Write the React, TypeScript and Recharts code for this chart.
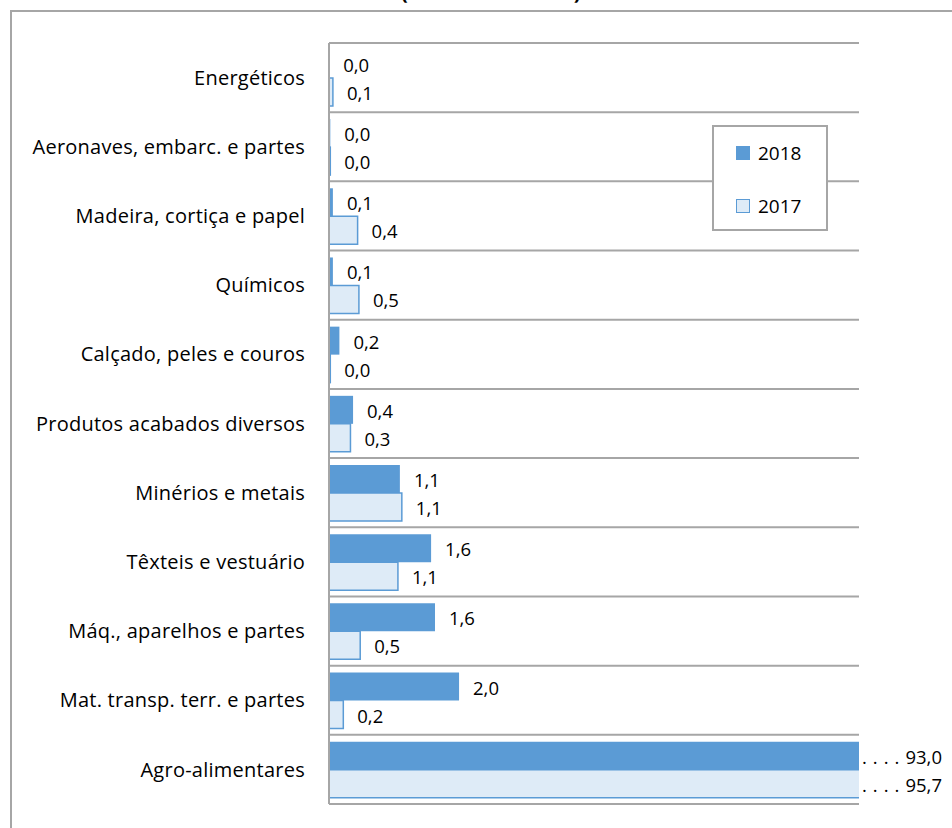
import { BarChart, Bar, XAxis, YAxis, CartesianGrid, LabelList, Legend } from 'recharts';

// categories top -> bottom
const categories = [
  'Energéticos',
  'Aeronaves, embarc. e partes',
  'Madeira, cortiça e papel',
  'Químicos',
  'Calçado, peles e couros',
  'Produtos acabados diversos',
  'Minérios e metais',
  'Têxteis e vestuário',
  'Máq., aparelhos e partes',
  'Mat. transp. terr. e partes',
  'Agro-alimentares',
];
const values2018 = [0.004, 0.02, 0.06, 0.06, 0.16, 0.37, 1.09, 1.57, 1.63, 2.0, 93.0];
const values2017 = [0.06, 0.02, 0.44, 0.46, 0.02, 0.33, 1.12, 1.06, 0.48, 0.22, 95.7];
const seriesNames = ['2018', '2017'];
const xMax = 8.15; // axis is cut, big bars run past the edge

const data = categories.map((name, i) => ({
  name,
  y2018: values2018[i],
  y2017: values2017[i],
}));

const W = 952;
const H = 828;
const M = { top: 43, right: 93, bottom: 24, left: 0 };
const PLOT_RIGHT = W - M.right;
const FONT = '"Open Sans", Calibri, sans-serif';
const BLUE = '#5b9bd5';
const LIGHT = '#deebf7';
const GRAY = '#a6a6a6';

const fmt = (v: number) => v.toFixed(1).replace('.', ',');

function ValueLabel(props: any) {
  const { x, y, width, height, value } = props;
  const end = Number(x) + Number(width);
  const over = end > PLOT_RIGHT;
  const tx = over ? PLOT_RIGHT + 3 : end + 14;
  return (
    <text
      x={tx}
      y={Number(y) + Number(height) / 2}
      dominantBaseline="central"
      fontSize={18.5}
      fontFamily={FONT}
      fill="#000"
    >
      {over && <tspan letterSpacing={0.6}>{'. . . . '}</tspan>}
      <tspan>{fmt(Number(value))}</tspan>
    </text>
  );
}

function LegendBox() {
  const swatches = [
    { fill: BLUE, stroke: BLUE },
    { fill: LIGHT, stroke: BLUE },
  ];
  return (
    <div
      style={{
        width: 112,
        height: 102,
        border: `2px solid ${GRAY}`,
        background: '#fff',
        fontFamily: FONT,
        fontSize: 19,
        color: '#000',
        position: 'relative',
      }}
    >
      {seriesNames.map((s, i) => (
        <div
          key={s}
          style={{
            position: 'absolute',
            left: 22,
            top: 14 + i * 53,
            display: 'flex',
            alignItems: 'center',
            height: 24,
          }}
        >
          <span
            style={{
              width: 12,
              height: 12,
              background: swatches[i].fill,
              border: `1.5px solid ${swatches[i].stroke}`,
              marginRight: 8,
              display: 'inline-block',
            }}
          />
          <span>{s}</span>
        </div>
      ))}
    </div>
  );
}

export default function App() {
  return (
    <div style={{ position: 'relative', width: W, height: H, overflow: 'hidden', background: '#fff' }}>
      <style>{'body{margin:0;overflow:hidden}'}</style>
      <div
        style={{
          position: 'absolute',
          left: 10,
          top: 10,
          width: W,
          height: H,
          border: `2px solid ${GRAY}`,
        }}
      />
      <div
        style={{
          position: 'absolute',
          left: 0,
          width: 983,
          top: -22,
          lineHeight: '26px',
          textAlign: 'center',
          fontFamily: FONT,
          fontWeight: 'bold',
          fontSize: 21,
          letterSpacing: 1.5,
        }}
      >
        (em % do total)
      </div>
      <div style={{ position: 'absolute', left: 0, top: 0 }}>
        <BarChart
          width={W}
          height={H}
          data={data}
          layout="vertical"
          margin={M}
          barCategoryGap="10%"
          barGap={0}
        >
          <CartesianGrid
            vertical={false}
            stroke={GRAY}
            strokeWidth={2}
            horizontalCoordinatesGenerator={({ offset }: any) =>
              Array.from({ length: categories.length + 1 }, (_, i) =>
                offset.top + (i * offset.height) / categories.length
              )
            }
          />
          <XAxis type="number" domain={[0, xMax]} allowDataOverflow hide />
          <YAxis
            type="category"
            dataKey="name"
            width={329}
            tickLine={false}
            tickSize={0}
            tickMargin={24}
            axisLine={{ stroke: GRAY, strokeWidth: 2 }}
            tick={{ fontSize: 20, fontFamily: FONT, fill: '#000', letterSpacing: 0.25 }}
            interval={0}
          />
          <Legend
            layout="vertical"
            align="center"
            verticalAlign="middle"
            wrapperStyle={{ left: 712, top: 125, width: 116, height: 106 }}
            content={() => <LegendBox />}
          />
          <Bar dataKey="y2018" name={seriesNames[0]} fill={BLUE} isAnimationActive={false}>
            <LabelList dataKey="y2018" content={ValueLabel} />
          </Bar>
          <Bar
            dataKey="y2017"
            name={seriesNames[1]}
            fill={LIGHT}
            stroke={BLUE}
            strokeWidth={1.5}
            isAnimationActive={false}
          >
            <LabelList dataKey="y2017" content={ValueLabel} />
          </Bar>
        </BarChart>
      </div>
    </div>
  );
}
